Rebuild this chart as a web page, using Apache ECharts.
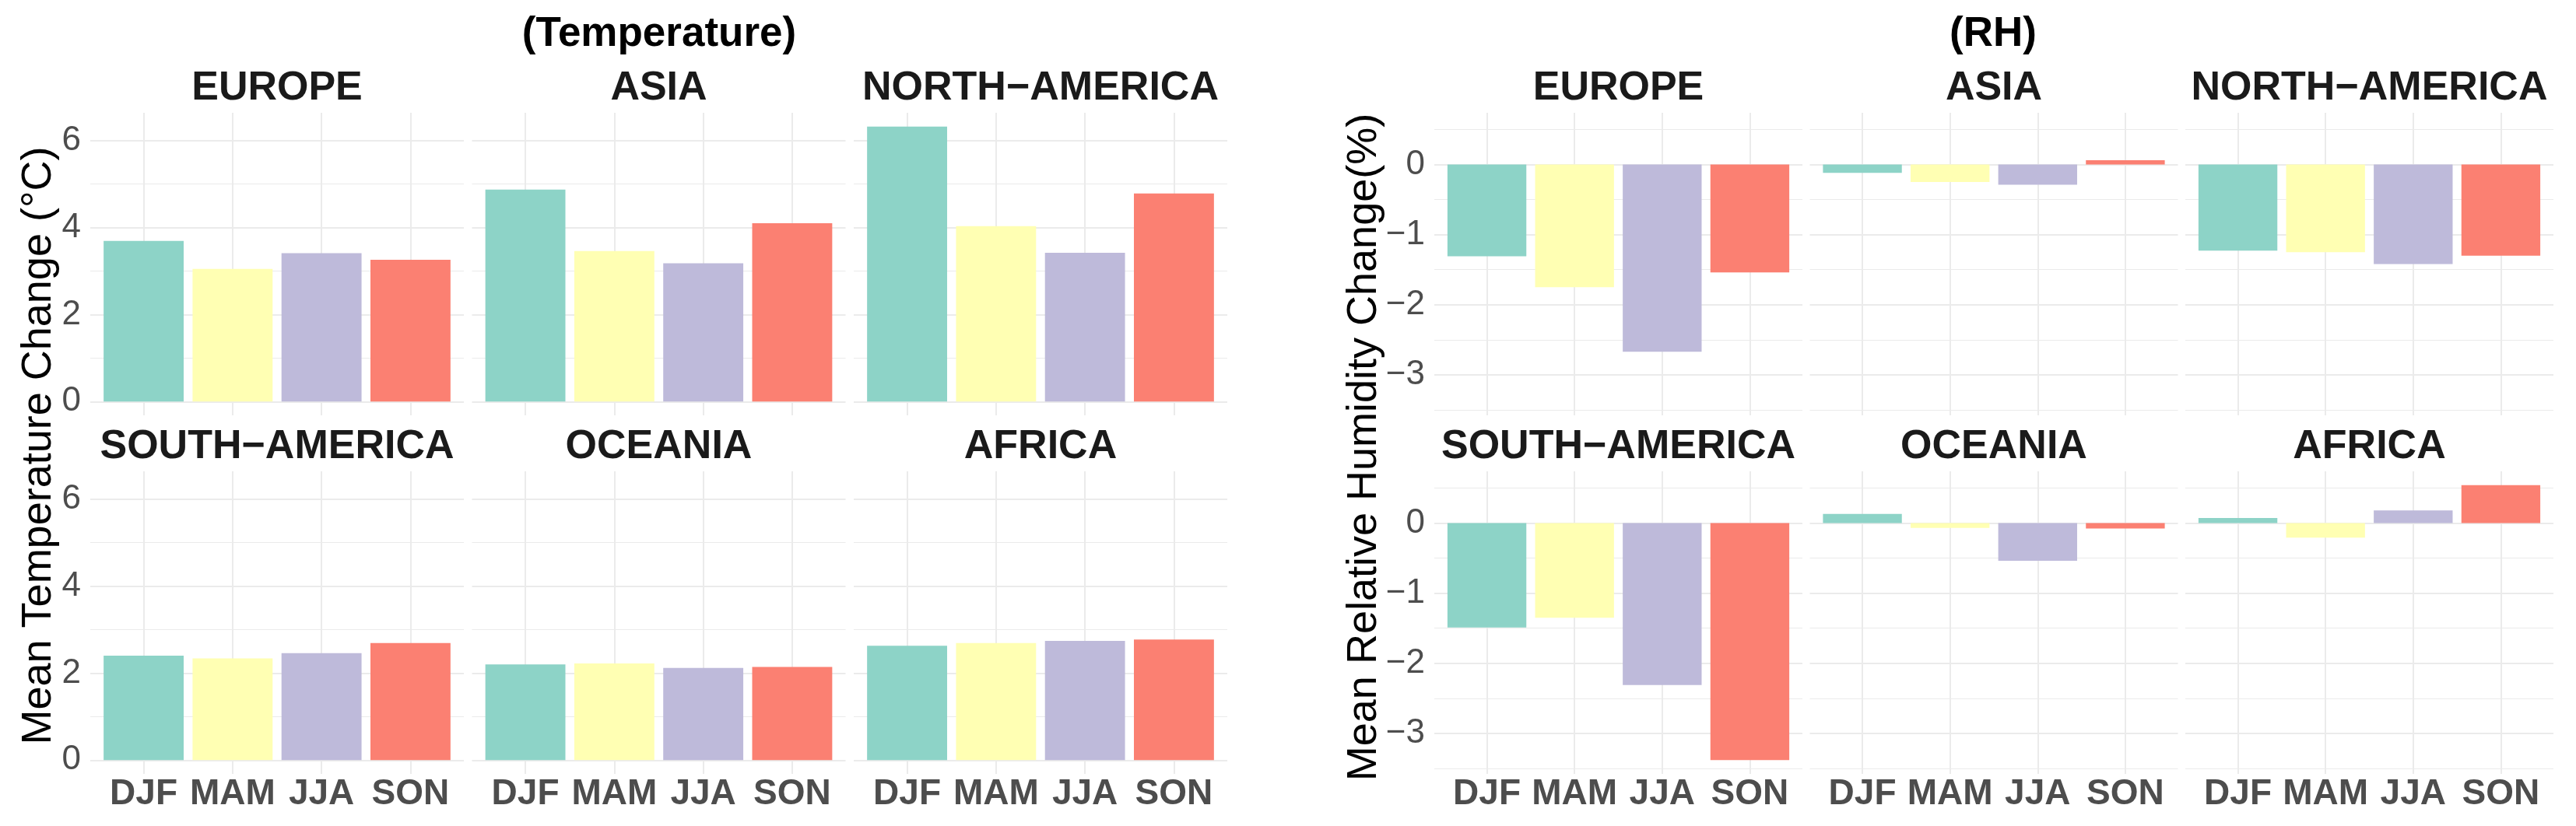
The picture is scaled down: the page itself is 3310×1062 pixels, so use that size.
<!DOCTYPE html>
<html>
	<head>
		<meta charset="utf-8">
		<title>Temperature / RH change by region</title>
		<script src="https://cdn.jsdelivr.net/npm/echarts@6/dist/echarts.min.js" type="text/javascript"></script>
		<style type="text/css">
			html, body{margin: 0; padding: 0; background-color: #fff;}
			#main{width: 3310px; height: 1062px;}
		</style>
	</head>
	<body>
		<div id="main"></div>

		<script type="text/javascript">
			// 数据
			var seasons = ['DJF', 'MAM', 'JJA', 'SON'];
			var regions = ['EUROPE', 'ASIA', 'NORTH\u2212AMERICA', 'SOUTH\u2212AMERICA', 'OCEANIA', 'AFRICA'];
			var seasonColors = ['#8DD3C7', '#FFFFB3', '#BEBADA', '#FB8072'];

			// 平均气温变化 (°C)
			var tempEurope = [3.69, 3.05, 3.41, 3.26];
			var tempAsia = [4.87, 3.46, 3.18, 4.10];
			var tempNorthAmerica = [6.32, 4.03, 3.42, 4.78];
			var tempSouthAmerica = [2.40, 2.34, 2.46, 2.69];
			var tempOceania = [2.20, 2.22, 2.12, 2.14];
			var tempAfrica = [2.63, 2.69, 2.74, 2.77];

			// 平均相对湿度变化 (%)
			var rhEurope = [-1.31, -1.75, -2.67, -1.54];
			var rhAsia = [-0.12, -0.25, -0.29, 0.06];
			var rhNorthAmerica = [-1.23, -1.25, -1.42, -1.30];
			var rhSouthAmerica = [-1.49, -1.35, -2.31, -3.38];
			var rhOceania = [0.13, -0.07, -0.54, -0.08];
			var rhAfrica = [0.07, -0.21, 0.18, 0.54];

			// 刻度
			var tempTicks = [0, 2, 4, 6];
			var tempMinorTicks = [1, 3, 5];
			var rhTicks = [-3, -2, -1, 0];
			var rhMinorTicks = [-3.5, -2.5, -1.5, -0.5, 0.5];
			var seasonTicks = [1, 2, 3, 4];

			var tempData = [tempEurope, tempAsia, tempNorthAmerica, tempSouthAmerica, tempOceania, tempAfrica];
			var rhData = [rhEurope, rhAsia, rhNorthAmerica, rhSouthAmerica, rhOceania, rhAfrica];

			// ggplot 风格的范围: 包含 0, 两端各扩 5%
			function paddedRange(sets) {
				var lo = 0, hi = 0;
				sets.forEach(function (s) {
					s.forEach(function (v) { lo = Math.min(lo, v); hi = Math.max(hi, v); });
				});
				var pad = (hi - lo) * 0.05;
				return [lo - pad, hi + pad];
			}
			var tempRange = paddedRange(tempData);
			var rhRange = paddedRange(rhData);

			var FONT = 'Liberation Sans, Arial, Helvetica, sans-serif';
			var GRID_COLOR = '#EBEBEB';
			var TICK_COLOR = '#4D4D4D';

			// 面板布局
			var tempCols = [116, 606.5, 1097], tempW = 480;
			var rhCols = [1843, 2325.5, 2808], rhW = 473;
			var rowTops = [145, 606], rowH = 389;

			var grid = [], xAxis = [], yAxis = [], series = [], graphic = [];

			function minusFmt(v) {
				return v < 0 ? '\u2212' + Math.abs(v) : String(v);
			}

			function addPanel(left, width, top, r, c, values, range, ticks, minorTicks) {
				var gi = grid.length;
				grid.push({left: left, top: top, width: width, height: rowH, outerBoundsMode: 'none', containLabel: false});

				xAxis.push({
					type: 'value', gridIndex: gi, min: 0.4, max: 4.6,
					axisLine: {show: false},
					axisTick: {show: false, customValues: seasonTicks},
					axisLabel: {
						show: r === 1, customValues: seasonTicks, margin: 3,
						formatter: function (v) { return seasons[Math.round(v) - 1] || ''; },
						color: TICK_COLOR, fontSize: 46, fontWeight: 'bold', fontFamily: FONT
					},
					splitLine: {show: true, lineStyle: {color: GRID_COLOR, width: 2}}
				});

				// 主刻度轴
				yAxis.push({
					type: 'value', gridIndex: gi, min: range[0], max: range[1],
					axisLine: {show: false},
					axisTick: {show: false, customValues: ticks},
					axisLabel: {
						show: c === 0, customValues: ticks, margin: 12,
						formatter: minusFmt,
						color: TICK_COLOR, fontSize: 44, fontFamily: FONT
					},
					splitLine: {show: true, lineStyle: {color: GRID_COLOR, width: 2}}
				});
				// 次刻度网格线
				yAxis.push({
					type: 'value', gridIndex: gi, min: range[0], max: range[1],
					axisLine: {show: false},
					axisTick: {show: false, customValues: minorTicks},
					axisLabel: {show: false},
					splitLine: {show: true, lineStyle: {color: GRID_COLOR, width: 1}}
				});

				series.push({
					type: 'bar',
					xAxisIndex: gi,
					yAxisIndex: yAxis.length - 2,
					barWidth: 0.9 * width / 4.2,
					data: values.map(function (v, i) { return [seasonTicks[i], v]; }),
					itemStyle: {
						color: function (p) { return seasonColors[p.dataIndex]; }
					},
					z: 3
				});

				graphic.push({
					type: 'text', x: left + width / 2, y: top - 31,
					style: {
						text: regions[r * 3 + c], fill: '#1A1A1A',
						font: 'bold 52px ' + FONT, textAlign: 'center', textVerticalAlign: 'middle'
					}
				});
			}

			for (var r = 0; r < 2; r++) {
				for (var c = 0; c < 3; c++) {
					addPanel(tempCols[c], tempW, rowTops[r], r, c, tempData[r * 3 + c], tempRange, tempTicks, tempMinorTicks);
					addPanel(rhCols[c], rhW, rowTops[r], r, c, rhData[r * 3 + c], rhRange, rhTicks, rhMinorTicks);
				}
			}

			// 标题与纵轴名称
			graphic.push(
				{type: 'text', x: 847, y: 44, style: {text: '(Temperature)', fill: '#000', font: 'bold 53px ' + FONT, textAlign: 'center', textVerticalAlign: 'middle'}},
				{type: 'text', x: 2561, y: 44, style: {text: '(RH)', fill: '#000', font: 'bold 53px ' + FONT, textAlign: 'center', textVerticalAlign: 'middle'}},
				{type: 'text', x: 50, y: 573, rotation: Math.PI / 2, style: {text: 'Mean Temperature Change (\u00B0C)', fill: '#000', font: '54px ' + FONT, textAlign: 'center', textVerticalAlign: 'middle'}},
				{type: 'text', x: 1753, y: 575, rotation: Math.PI / 2, style: {text: 'Mean Relative Humidity Change(%)', fill: '#000', font: '54px ' + FONT, textAlign: 'center', textVerticalAlign: 'middle'}}
			);

			var myChart = echarts.init(document.getElementById('main'), null, {renderer: 'canvas'});
			myChart.setOption({
				animation: false,
				backgroundColor: '#fff',
				grid: grid,
				xAxis: xAxis,
				yAxis: yAxis,
				series: series,
				graphic: graphic
			});
		</script>
	</body>
</html>
